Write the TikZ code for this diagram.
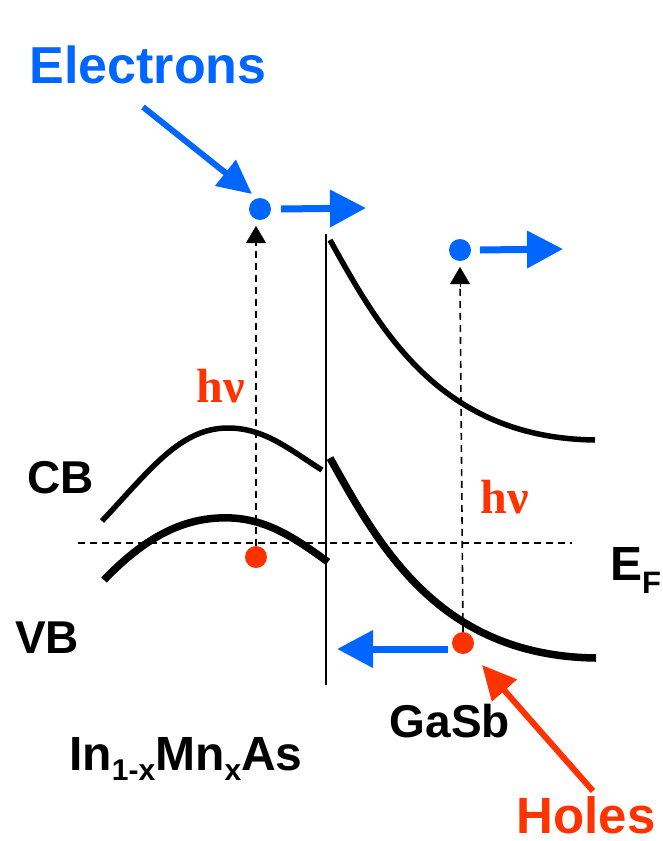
\documentclass[tikz,border=0pt]{standalone}
\usepackage{fontspec}
\setmainfont{Liberation Sans}
\newfontfamily\serifb{Liberation Serif}
\usetikzlibrary{arrows.meta}
\definecolor{eblue}{HTML}{0066FF}
\definecolor{hred}{HTML}{FF3300}
\begin{document}
\begin{tikzpicture}[x=1pt,y=-1pt,
  lbl/.style={anchor=base,inner sep=0pt,font=\bfseries},
  band/.style={line width=5.5pt,line cap=butt},
  vband/.style={line width=7.5pt,line cap=butt},
  guide/.style={line width=1.6pt,dash pattern=on 7pt off 5pt},
  blu/.style={line width=7pt,color=eblue,-{Triangle[length=36pt,width=36pt]}},
  upar/.style={-{Triangle[length=17pt,width=20pt]}},
  edot/.style={circle,fill=eblue,minimum width=22pt,inner sep=0pt,draw=none},
  hdot/.style={circle,fill=hred,minimum width=22pt,inner sep=0pt,draw=none}]
\useasboundingbox (0,0) rectangle (663,841);
% labels
\node[lbl,text=eblue,font=\bfseries\fontsize{52}{60}\selectfont] (electrons) at (148,83) {Electrons};
\node[lbl,text=hred,font=\bfseries\fontsize{51}{58}\selectfont] (holes) at (586,833) {Holes};
\node[lbl,text=hred,font=\serifb\bfseries\fontsize{48}{54}\selectfont] (hv1) at (221,402) {hν};
\node[lbl,text=hred,font=\serifb\bfseries\fontsize{48}{54}\selectfont] (hv2) at (505,513) {hν};
\node[lbl,font=\bfseries\fontsize{46}{52}\selectfont] (cb) at (61,493) {CB};
\node[lbl,font=\bfseries\fontsize{46}{52}\selectfont] (vb) at (47,653) {VB};
\node[lbl,anchor=base west,font=\bfseries\fontsize{48}{54}\selectfont] (ef) at (610,580) {E\raisebox{-13pt}{\fontsize{31}{36}\selectfont F}};
\node[lbl,font=\bfseries\fontsize{46}{52}\selectfont] (gasb) at (450,737) {GaSb};
\node[lbl,font=\bfseries\fontsize{48}{54}\selectfont] (inmnas) at (186,770)
  {In\raisebox{-10pt}{\fontsize{30}{34}\selectfont 1-x}Mn\raisebox{-10pt}{\fontsize{30}{34}\selectfont x}As};
% coordinates
\coordinate (fl) at (78,543);
\coordinate (fr) at (572,543);
\coordinate (it) at (326,234);
\coordinate (ib) at (326,685);
% Fermi level and interface
\draw[guide] (fl) -- (fr);
\draw[line width=2pt] (it) -- (ib);
% left bands (In1-xMnxAs)
\draw[band] (102,521) .. controls (150,470) and (180,428) .. (228,428)
   .. controls (265,428) and (290,450) .. (322,470);
\draw[vband] (104,580) .. controls (150,532) and (190,516) .. (232,518)
   .. controls (268,520) and (295,538) .. (328,562);
% right bands (GaSb)
\draw[band] (330,240) .. controls (380,330) and (440,438) .. (595,440);
\draw[vband] (330,458) .. controls (380,548) and (440,656) .. (596,658);
% particles
\node[edot,minimum height=20pt] (e1) at (260,209) {};
\node[edot,minimum height=20pt] (e2) at (460,250) {};
\node[hdot] (h1) at (256,557) {};
\node[hdot] (h2) at (463,643) {};
% excitation arrows
\coordinate (t1) at (256,226);
\coordinate (t2) at (460,267);
\draw[guide] (h1.north) -- (256,240);
\draw[upar] (256,243) -- (t1);
\draw[guide] (h2.north) -- (460,284);
\draw[upar] (460,287) -- (t2);
% motion arrows
\coordinate (a1s) at (281,209); \coordinate (a1e) at (366,208);
\coordinate (a2s) at (480,250); \coordinate (a2e) at (563,249);
\coordinate (a3s) at (448,649); \coordinate (a3e) at (337,649);
\draw[blu] (a1s) -- (a1e);
\draw[blu] (a2s) -- (a2e);
\draw[blu] (a3s) -- (a3e);
% pointer arrows
\coordinate (ep) at (143,107); \coordinate (et) at (252,194);
\coordinate (hp) at (593,791); \coordinate (ht) at (482,665);
\draw[line width=6pt,eblue,-{Triangle[length=34pt,width=32pt]}] (ep) -- (et);
\draw[line width=6pt,hred,-{Triangle[length=34pt,width=32pt]}] (hp) -- (ht);
\end{tikzpicture}
\end{document}
